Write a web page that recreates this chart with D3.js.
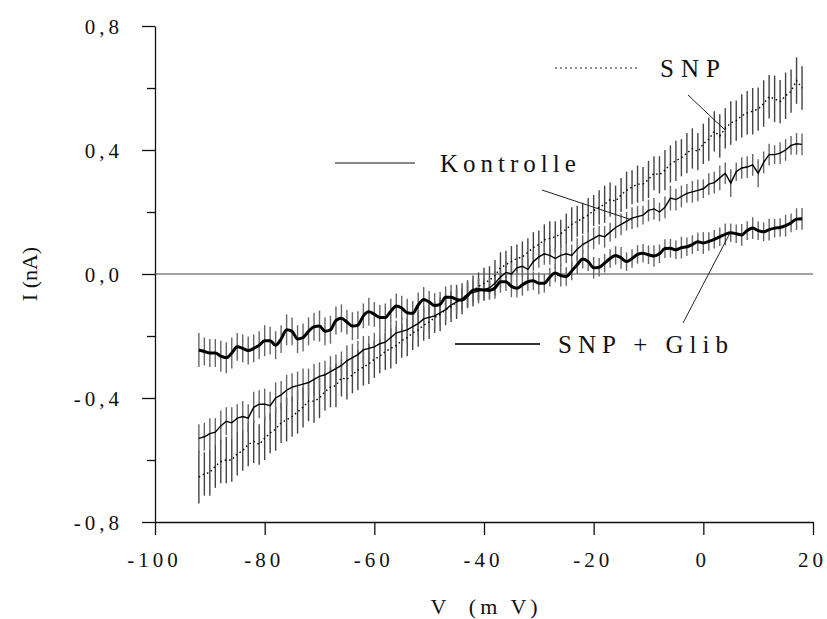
<!DOCTYPE html>
<html lang="de">
  <head>
    <meta charset="utf-8">
    <title>I-V Kurve</title>
    <script src="https://d3js.org/d3.v7.min.js"></script>
    <style type="text/css">
        body {
          margin: 0;
          background: #fff;
        }
        .tick text {
            font-size: 21px;
            letter-spacing: 4px;
            fill: #111;
        }
        .domain, .tick line {
            stroke: #111;
            stroke-width: 1.3;
        }
    </style>
  </head>
  <body>
    <div class="chart" id="chart"></div>

    <script>
        // voltage steps (mV)
        var volts = d3.range(-92, 19, 1);

        // Kontrolle
        var kontrolle = [
          -0.53,-0.525,-0.515,-0.51,-0.49,-0.475,-0.48,-0.465,-0.46,-0.465,
          -0.43,-0.42,-0.42,-0.425,-0.40,-0.39,-0.375,-0.365,-0.36,-0.355,
          -0.35,-0.34,-0.33,-0.325,-0.315,-0.305,-0.295,-0.28,-0.27,-0.26,
          -0.245,-0.24,-0.235,-0.225,-0.22,-0.205,-0.19,-0.185,-0.18,-0.17,
          -0.16,-0.145,-0.14,-0.135,-0.125,-0.115,-0.10,-0.09,-0.08,-0.065,
          -0.06,-0.055,-0.05,-0.045,-0.03,-0.01,0.005,0.0,0.02,0.025,
          0.015,0.04,0.055,0.065,0.06,0.05,0.06,0.065,0.06,0.08,
          0.095,0.105,0.115,0.125,0.12,0.135,0.15,0.16,0.17,0.18,
          0.185,0.19,0.205,0.21,0.2,0.215,0.245,0.24,0.25,0.26,
          0.265,0.27,0.275,0.29,0.295,0.31,0.325,0.293,0.33,0.342,
          0.345,0.352,0.325,0.36,0.385,0.385,0.39,0.40,0.415,0.42,0.418
        ];
        var kontrolleErr = [
          0.045,0.045,0.05,0.045,0.05,0.045,0.05,0.045,0.05,0.045,
          0.05,0.045,0.05,0.045,0.05,0.045,0.05,0.045,0.045,0.05,
          0.045,0.05,0.045,0.045,0.05,0.045,0.045,0.05,0.045,0.045,
          0.045,0.04,0.045,0.045,0.04,0.045,0.04,0.045,0.04,0.045,
          0.04,0.04,0.045,0.04,0.04,0.035,0.04,0.04,0.035,0.04,
          0.035,0.04,0.035,0.035,0.04,0.035,0.035,0.04,0.035,0.035,
          0.035,0.03,0.035,0.035,0.03,0.035,0.035,0.03,0.035,0.035,
          0.03,0.035,0.035,0.03,0.035,0.03,0.035,0.035,0.03,0.035,
          0.035,0.03,0.035,0.035,0.03,0.035,0.04,0.035,0.035,0.03,
          0.035,0.035,0.03,0.035,0.035,0.04,0.035,0.045,0.03,0.035,
          0.035,0.035,0.045,0.035,0.035,0.03,0.035,0.035,0.03,0.035,0.035
        ];

        // SNP
        var snp = [
          -0.655,-0.645,-0.64,-0.62,-0.605,-0.60,-0.60,-0.58,-0.57,-0.55,
          -0.54,-0.55,-0.53,-0.513,-0.50,-0.48,-0.47,-0.46,-0.445,-0.43,
          -0.41,-0.41,-0.40,-0.38,-0.365,-0.36,-0.335,-0.34,-0.325,-0.31,
          -0.30,-0.29,-0.275,-0.265,-0.25,-0.24,-0.23,-0.215,-0.205,-0.19,
          -0.18,-0.165,-0.155,-0.14,-0.13,-0.115,-0.105,-0.09,-0.08,-0.065,
          -0.055,-0.04,-0.03,-0.02,-0.005,0.02,0.03,0.04,0.05,0.055,
          0.07,0.085,0.095,0.11,0.115,0.12,0.13,0.145,0.16,0.17,
          0.18,0.19,0.205,0.215,0.225,0.24,0.235,0.255,0.27,0.28,
          0.29,0.29,0.305,0.325,0.32,0.335,0.355,0.365,0.375,0.39,
          0.405,0.395,0.42,0.435,0.46,0.445,0.47,0.487,0.495,0.51,
          0.52,0.525,0.532,0.55,0.572,0.565,0.556,0.575,0.59,0.624,0.60
        ];
        var snpErr = [
          0.085,0.07,0.075,0.07,0.07,0.075,0.07,0.07,0.065,0.07,
          0.07,0.065,0.07,0.065,0.07,0.065,0.07,0.065,0.07,0.065,
          0.065,0.07,0.065,0.06,0.065,0.07,0.06,0.065,0.06,0.065,
          0.06,0.065,0.06,0.055,0.06,0.065,0.06,0.055,0.06,0.055,
          0.055,0.05,0.055,0.05,0.055,0.05,0.05,0.055,0.05,0.045,
          0.05,0.045,0.05,0.045,0.05,0.05,0.045,0.05,0.045,0.05,
          0.045,0.05,0.045,0.05,0.055,0.05,0.045,0.05,0.055,0.05,
          0.05,0.055,0.05,0.055,0.06,0.055,0.05,0.055,0.06,0.055,
          0.06,0.055,0.06,0.055,0.06,0.065,0.06,0.065,0.06,0.065,
          0.065,0.06,0.065,0.07,0.065,0.07,0.065,0.07,0.065,0.07,
          0.07,0.075,0.07,0.075,0.07,0.075,0.07,0.075,0.07,0.075,0.07
        ];

        // SNP + Glib
        var glib = [
          -0.245,-0.25,-0.255,-0.255,-0.265,-0.27,-0.255,-0.235,-0.24,-0.247,
          -0.24,-0.23,-0.215,-0.215,-0.23,-0.21,-0.18,-0.185,-0.21,-0.205,
          -0.185,-0.17,-0.168,-0.185,-0.18,-0.15,-0.143,-0.155,-0.168,-0.165,
          -0.135,-0.122,-0.13,-0.14,-0.14,-0.12,-0.103,-0.11,-0.125,-0.127,
          -0.10,-0.082,-0.09,-0.102,-0.098,-0.075,-0.075,-0.082,-0.084,-0.07,
          -0.052,-0.05,-0.052,-0.053,-0.045,-0.025,-0.025,-0.04,-0.046,-0.035,
          -0.025,-0.022,-0.03,-0.03,-0.01,0.003,-0.005,-0.008,0.01,0.03,
          0.048,0.04,0.02,0.022,0.035,0.05,0.06,0.052,0.04,0.05,
          0.063,0.067,0.062,0.058,0.065,0.082,0.083,0.078,0.085,0.088,
          0.095,0.104,0.10,0.105,0.112,0.12,0.128,0.133,0.13,0.126,
          0.14,0.148,0.14,0.136,0.143,0.148,0.15,0.156,0.165,0.177,0.178
        ];
        var glibErr = [
          0.055,0.045,0.045,0.045,0.05,0.05,0.05,0.045,0.045,0.045,
          0.045,0.045,0.05,0.045,0.045,0.045,0.05,0.045,0.045,0.045,
          0.045,0.045,0.05,0.045,0.045,0.045,0.045,0.04,0.045,0.045,
          0.04,0.045,0.04,0.04,0.045,0.04,0.04,0.04,0.045,0.04,
          0.04,0.04,0.035,0.04,0.04,0.035,0.04,0.035,0.035,0.04,
          0.035,0.035,0.035,0.03,0.035,0.035,0.03,0.035,0.03,0.035,
          0.03,0.03,0.035,0.03,0.03,0.03,0.035,0.03,0.03,0.03,
          0.03,0.03,0.035,0.03,0.03,0.03,0.03,0.035,0.03,0.03,
          0.03,0.03,0.03,0.035,0.03,0.03,0.03,0.03,0.035,0.03,
          0.03,0.03,0.035,0.03,0.03,0.03,0.035,0.03,0.03,0.035,
          0.03,0.035,0.03,0.03,0.035,0.03,0.03,0.035,0.03,0.035,0.035
        ];

        var xTicks = [-100, -80, -60, -40, -20, 0, 20];
        var yTicks = [-0.8, -0.4, 0, 0.4, 0.8];
        var yMinor = [-0.6, -0.2, 0.2, 0.6];

        var width = 827, height = 619;
        var serif = "'Liberation Serif', 'Times New Roman', serif";

        var svg = d3.select("#chart")
                    .append("svg")
                    .attr("width", width)
                    .attr("height", height);

        var x = d3.scaleLinear().domain([-100, 20]).range([155, 813]);
        var y = d3.scaleLinear().domain([-0.8, 0.8]).range([522, 26]);

        // plain hyphen and decimal comma, like the original
        var fmtY = function(d) { return d.toFixed(1).replace(".", ","); };
        var fmtX = function(d) { return String(d); };

        // axes
        svg.append("g")
            .attr("transform", "translate(155,0)")
            .call(d3.axisLeft(y).tickValues(yMinor).tickSize(8).tickFormat(""))
            .call(function(g) { g.select(".domain").remove(); });

        svg.append("g")
            .attr("transform", "translate(155,0)")
            .call(d3.axisLeft(y).tickValues(yTicks).tickSize(13).tickSizeOuter(0).tickPadding(19).tickFormat(fmtY))
            .selectAll("text").attr("dy", "0.34em");

        svg.append("g")
            .attr("transform", "translate(0,522)")
            .call(d3.axisBottom(x).tickValues(xTicks).tickSize(13).tickSizeOuter(0).tickPadding(17).tickFormat(fmtX))
            .selectAll("text").attr("dx", "-1px");

        // zero line
        svg.append("line")
            .attr("x1", x(-100)).attr("x2", x(20))
            .attr("y1", y(0)).attr("y2", y(0))
            .attr("stroke", "#444").attr("stroke-width", 1.2);

        // axis titles
        svg.append("text")
            .attr("x", 486).attr("y", 614)
            .attr("text-anchor", "middle")
            .style("font-size", "22px")
            .style("letter-spacing", "4px")
            .attr("xml:space", "preserve")
            .text("V  (m V)");

        svg.append("text")
            .attr("transform", "translate(37," + y(0) + ") rotate(-90)")
            .attr("text-anchor", "middle")
            .style("font-size", "22px")
            .text("I (nA)");

        var series = [
          {name: "snp", values: snp, err: snpErr, width: 1.4, dash: "1.5,3", bar: "#444"},
          {name: "kontrolle", values: kontrolle, err: kontrolleErr, width: 1.4, dash: null, bar: "#666"},
          {name: "glib", values: glib, err: glibErr, width: 3, dash: null, bar: "#666"}
        ];

        // error bars
        series.forEach(function(s) {
          svg.append("g")
            .selectAll("line")
            .data(volts)
            .enter().append("line")
              .attr("x1", function(d) { return x(d); })
              .attr("x2", function(d) { return x(d); })
              .attr("y1", function(d, i) { return y(s.values[i] - s.err[i]); })
              .attr("y2", function(d, i) { return y(s.values[i] + s.err[i]); })
              .attr("stroke", s.bar)
              .attr("stroke-width", 1.4);
        });

        // mean curves
        series.forEach(function(s) {
          var line = d3.line()
              .x(function(d) { return x(d); })
              .y(function(d, i) { return y(s.values[i]); })
              .curve(s.name == "glib" ? d3.curveMonotoneX : d3.curveLinear);
          svg.append("path")
            .datum(volts)
            .attr("d", line)
            .attr("fill", "none")
            .attr("stroke", "#000")
            .attr("stroke-width", s.width)
            .attr("stroke-dasharray", s.dash);
        });

        // legend
        var legend = [
          {label: "SNP", x1: 555, x2: 640, ly: 68, tx: 660, color: "#222", width: 1.2, dash: "2,3", ls: 7},
          {label: "Kontrolle", x1: 335, x2: 415, ly: 163, tx: 440, color: "#888", width: 1.8, dash: null, ls: 5},
          {label: "SNP + Glib", x1: 455, x2: 540, ly: 344, tx: 558, color: "#333", width: 2, dash: null, ls: 6}
        ];
        legend.forEach(function(l) {
          svg.append("line")
            .attr("x1", l.x1).attr("x2", l.x2)
            .attr("y1", l.ly).attr("y2", l.ly)
            .attr("stroke", l.color)
            .attr("stroke-width", l.width)
            .attr("stroke-dasharray", l.dash);
          svg.append("text")
            .attr("x", l.tx).attr("y", l.ly + 9)
            .style("font-size", "25px")
            .style("letter-spacing", l.ls + "px")
            .text(l.label);
        });

        // pointer lines
        var pointers = [[688, 95, 725, 130], [542, 190, 632, 220], [683, 323, 730, 233]];
        svg.selectAll(".pointer")
          .data(pointers)
          .enter().append("line")
            .attr("class", "pointer")
            .attr("x1", function(d) { return d[0]; })
            .attr("y1", function(d) { return d[1]; })
            .attr("x2", function(d) { return d[2]; })
            .attr("y2", function(d) { return d[3]; })
            .attr("stroke", "#222")
            .attr("stroke-width", 1);

        // serif everywhere (axis groups set their own font-family)
        svg.selectAll("text").style("font-family", serif).attr("fill", "#111");
    </script>
  </body>
</html>
